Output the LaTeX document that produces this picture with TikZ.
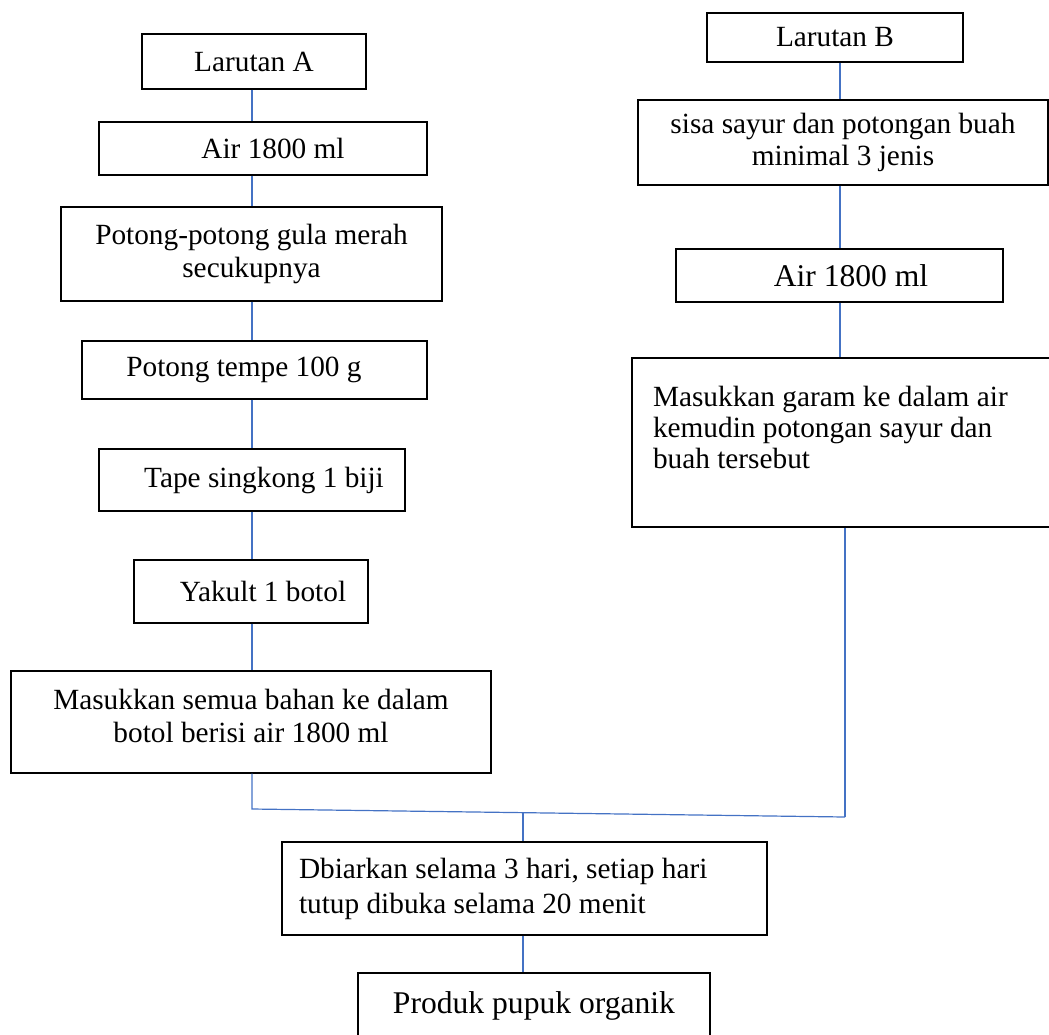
\documentclass[tikz,border=0pt]{standalone}
\usepackage{fontspec}
\setmainfont{Liberation Serif}

\definecolor{wordblue}{HTML}{4472C4}

\begin{document}
\begin{tikzpicture}[x=1pt, y=-1pt,
    box/.style={draw=black, line width=1.4pt, inner sep=0pt, align=center,
      font=\fontsize{29.3}{33}\selectfont},
    big/.style={font=\fontsize{31.6}{34}\selectfont},
    link/.style={wordblue, line width=1.2pt}]

  \useasboundingbox (0,0) rectangle (1049,1034);

  % columns of the connectors
  \coordinate (colA) at (252,0);
  \coordinate (colB) at (840,0);
  \coordinate (colC) at (523,0);

  % larutan A
  \node[box, minimum width=224pt, minimum height=55pt] (lara) at (254,61.5) {Larutan A};
  \node[box, minimum width=328pt, minimum height=53pt] (aira) at (263,148.5) {\hspace*{20pt}Air 1800 ml};
  \node[box, minimum width=381pt, minimum height=94pt] (gula) at (251.5,254) {Potong-potong gula merah\\secukupnya};
  \node[box, minimum width=345pt, minimum height=58pt] (tempe) at (254.5,370) {Potong tempe 100 g\hspace*{21pt}};
  \node[box, minimum width=306pt, minimum height=62pt] (tape) at (252,480) {\hspace*{24pt}Tape singkong 1 biji};
  \node[box, minimum width=234pt, minimum height=63pt] (yakult) at (251,591.5) {\hspace*{24pt}Yakult 1 botol};
  \node[box, minimum width=480pt, minimum height=102pt] (semua) at (251,722) {Masukkan semua bahan ke dalam\\botol berisi air 1800 ml\\[-20pt]\mbox{}};

  % larutan B
  \node[box, minimum width=256pt, minimum height=49pt] (larb) at (835,37.5) {Larutan B};
  \node[box, minimum width=410pt, minimum height=85pt, font=\fontsize{29.3}{31.5}\selectfont] (sisa) at (843,142.5) {sisa sayur dan potongan buah\\minimal 3 jenis};
  \node[box, big, minimum width=327pt, minimum height=53pt] (airb) at (839.5,275.5) {\hspace*{23pt}Air 1800 ml};
  \node[box, minimum width=430pt, minimum height=169pt, inner xsep=21pt, text width=388pt, align=flush left,
    font=\fontsize{29.3}{31}\selectfont] (garam) at (847,442.5)
    {Masukkan garam ke dalam air\\kemudin potongan sayur dan\\buah tersebut\\~};

  % hasil
  \node[box, minimum width=485pt, minimum height=93pt, inner xsep=17pt, text width=451pt, align=flush left,
    font=\fontsize{29.3}{35}\selectfont] (biar) at (524.5,888.5)
    {Dbiarkan selama 3 hari, setiap hari\\tutup dibuka selama 20 menit};
  \node[box, big, minimum width=352pt, minimum height=65pt] (produk) at (534,1005.5) {Produk pupuk organik};

  % connectors A
  \draw[link] (lara.south -| colA) to (aira.north -| colA);
  \draw[link] (aira.south -| colA) to (gula.north -| colA);
  \draw[link] (gula.south -| colA) to (tempe.north -| colA);
  \draw[link] (tempe.south -| colA) to (tape.north -| colA);
  \draw[link] (tape.south -| colA) to (yakult.north -| colA);
  \draw[link] (yakult.south -| colA) to (semua.north -| colA);

  % connectors B
  \draw[link] (larb.south -| colB) to (sisa.north -| colB);
  \draw[link] (sisa.south -| colB) to (airb.north -| colB);
  \draw[link] (airb.south -| colB) to (garam.north -| colB);

  % joining both
  \coordinate (jl) at (252,809);
  \coordinate (jr) at (845,817);
  \coordinate (jm) at (523,813);
  \draw[link] (semua.south -| jl) to (jl) to (jr);
  \draw[link] (garam.south -| jr) to (jr);
  \draw[link] (jm) to (biar.north -| colC);
  \draw[link] (biar.south -| colC) to (produk.north -| colC);
\end{tikzpicture}
\end{document}
